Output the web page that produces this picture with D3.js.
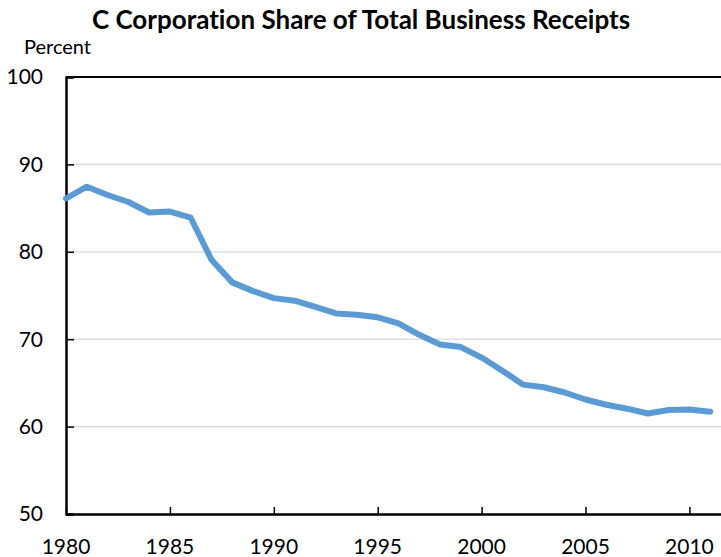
<!DOCTYPE html>
<html>
<head>
<meta charset="utf-8">
<script src="https://cdn.jsdelivr.net/npm/d3@7"></script>
<style>
  body { margin: 0; background: #fff; }
  svg { display: block; font-family: Lato, "Open Sans", sans-serif; font-variant-ligatures: none; }
</style>
</head>
<body>
<div id="chart"></div>
<script>
const width = 721;
const height = 557;

const years = d3.range(1980, 2012);
const share = [
  86.1, 87.45, 86.5, 85.7, 84.5, 84.6, 83.9, 79.1, 76.5, 75.5,
  74.7, 74.4, 73.7, 72.95, 72.8, 72.5, 71.8, 70.5, 69.4, 69.1,
  67.9, 66.4, 64.8, 64.5, 63.9, 63.1, 62.5, 62.05, 61.5, 61.9,
  61.95, 61.7
];
const xTicks = [1980, 1985, 1990, 1995, 2000, 2005, 2010];
const yTicks = [50, 60, 70, 80, 90, 100];

const margin = { top: 77, right: 0, bottom: 43, left: 66 };

const svg = d3.select("#chart")
    .append("svg")
    .attr("width", width)
    .attr("height", height);

const x = d3.scaleLinear()
    .domain([1980, 2011.52])
    .range([margin.left, width - margin.right]);

const y = d3.scaleLinear()
    .domain([50, 100])
    .range([height - margin.bottom, margin.top]);

// Gridlines
svg.append("g")
    .selectAll("line")
    .data(yTicks.filter(d => d > 50 && d < 100))
    .enter()
    .append("line")
    .attr("x1", margin.left)
    .attr("x2", width)
    .attr("y1", d => y(d))
    .attr("y2", d => y(d))
    .attr("stroke", "#d9d9d9")
    .attr("stroke-width", 1.2);

// Top frame line
svg.append("line")
    .attr("x1", margin.left)
    .attr("x2", width)
    .attr("y1", y(100))
    .attr("y2", y(100))
    .attr("stroke", "#000")
    .attr("stroke-width", 2);

// Y axis
const yAxis = svg.append("g")
    .attr("transform", `translate(${margin.left},0)`)
    .call(d3.axisRight(y).tickValues(yTicks).tickSize(8).tickFormat(""));
yAxis.select(".domain").attr("stroke-width", 2.5);
yAxis.selectAll(".tick line").attr("stroke-width", 1.5);

svg.append("g")
    .selectAll("text")
    .data(yTicks)
    .enter()
    .append("text")
    .attr("x", 43)
    .attr("y", d => y(d))
    .attr("dy", "0.35em")
    .attr("text-anchor", "end")
    .attr("font-size", 21)
    .attr("fill", "#000")
    .text(d => d);

// X axis
const xAxis = svg.append("g")
    .attr("transform", `translate(0,${y(50)})`)
    .call(d3.axisTop(x).tickValues(xTicks).tickSize(7).tickSizeOuter(0).tickFormat(""));
xAxis.select(".domain").attr("stroke-width", 2.5);
xAxis.selectAll(".tick line").attr("stroke-width", 1.5);

svg.append("g")
    .selectAll("text")
    .data(xTicks)
    .enter()
    .append("text")
    .attr("x", d => x(d))
    .attr("y", 547)
    .attr("dy", "0.35em")
    .attr("text-anchor", "middle")
    .attr("font-size", 21)
    .attr("fill", "#000")
    .text(d => d);

// Line
const line = d3.line()
    .x((d, i) => x(years[i]))
    .y(d => y(d));

svg.append("path")
    .datum(share)
    .attr("d", line)
    .attr("fill", "none")
    .attr("stroke", "#5b9bd5")
    .attr("stroke-width", 6)
    .attr("stroke-linejoin", "round")
    .attr("stroke-linecap", "round");

// Title and unit label
svg.append("text")
    .attr("x", 361)
    .attr("y", 20)
    .attr("dy", "0.35em")
    .attr("text-anchor", "middle")
    .attr("font-size", 26)
    .attr("font-weight", "bold")
    .text("C Corporation Share of Total Business Receipts");

svg.append("text")
    .attr("x", 24)
    .attr("y", 47)
    .attr("dy", "0.35em")
    .attr("font-size", 20)
    .text("Percent");
</script>
</body>
</html>
